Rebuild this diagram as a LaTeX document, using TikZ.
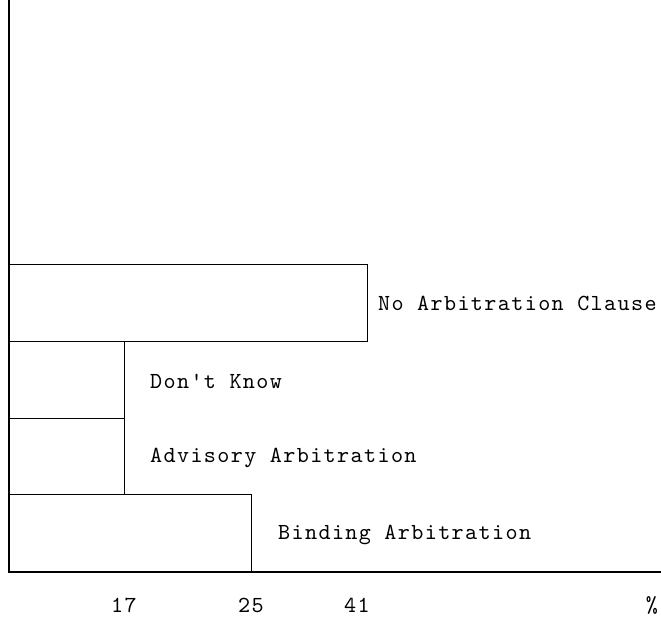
\documentclass[tikz,border=0pt]{standalone}
\usepackage{fontspec}
\newfontfamily\typer{lmmono10-regular}[Extension=.otf, LetterSpace=6]
\usepackage{tikz}

\tikzset{
  bar/.style={line width=1pt},
  lbl/.style={anchor=west, inner sep=0pt, font=\typer\fontsize{23}{26}\selectfont},
  tick/.style={inner sep=0pt, font=\typer\fontsize{23}{26}\selectfont}
}

\begin{document}
\begin{tikzpicture}[x=1pt,y=-1pt]
        \useasboundingbox (0,0) rectangle (661,617);
        \draw [line width=1.4pt] (9,0) -- (9,572) -- (661,572);  %axes
        \draw [bar] (9,265) rectangle (367,342);                   %No Arbitration
        \draw [bar] (9,342) rectangle (124,418);                   %Don't Know
        \draw [bar] (9,418) rectangle (124,494);                   %Advisory
        \draw [bar] (9,494) rectangle (251,572);                   %Binding
        \node [lbl] (noarb)  at (378,303) {No Arbitration Clause};
        \node [lbl] (dknow)  at (150,381) {Don't Know};
        \node [lbl] (advis)  at (150,458) {Advisory Arbitration};
        \node [lbl] (bind)   at (278,535) {Binding Arbitration};
        \node [tick] (t17)   at (124,605) {17};
        \node [tick] (t25)   at (251,605) {25};
        \node [tick] (t41)   at (357,605) {41};
        \node [tick] (tpct)  at (652,605) {\%};
\end{tikzpicture}
\end{document}
